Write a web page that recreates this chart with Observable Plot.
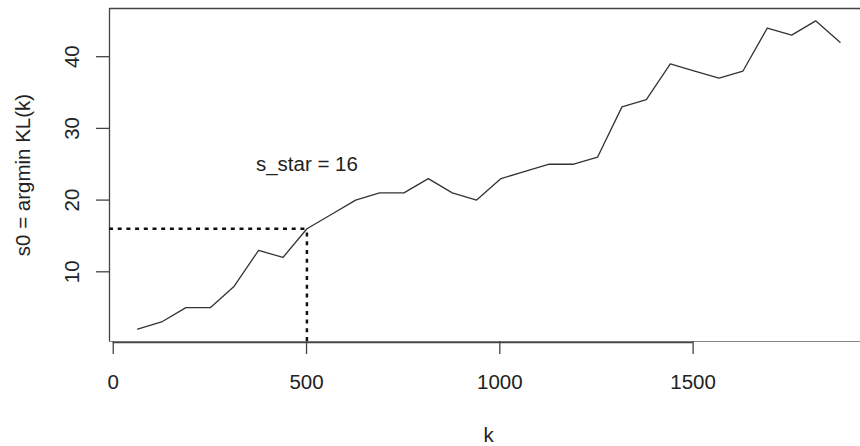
<!DOCTYPE html>
<html>
<head>
<meta charset="utf-8">
<script src="https://cdn.jsdelivr.net/npm/d3@7"></script>
<script src="https://cdn.jsdelivr.net/npm/@observablehq/plot@0.6"></script>
<style>
  html, body { margin: 0; padding: 0; background: #fff; }
  #chart svg { display: block; }
</style>
</head>
<body>
<div id="chart"></div>
<script>
// ---- data ----
const kValues  = [63, 125, 188, 251, 313, 376, 439, 501, 564, 627, 689, 752, 815, 877, 940,
                  1003, 1065, 1128, 1191, 1253, 1316, 1379, 1441, 1504, 1567, 1629, 1692, 1755, 1817, 1880];
const s0Values = [2, 3, 5, 5, 8, 13, 12, 16, 18, 20, 21, 21, 23, 21, 20,
                  23, 24, 25, 25, 26, 33, 34, 39, 38, 37, 38, 44, 43, 45, 42];
const xTicks = [0, 500, 1000, 1500];
const yTicks = [10, 20, 30, 40];
const sStar = 16;
const kStar = 501;
const annotationText = "s_star = 16";
const annotationY = 25;
const xTitle = "k";
const yTitle = "s0 = argmin KL(k)";

const data = kValues.map((k, i) => ({k, s0: s0Values[i]}));

// R-style extended domains (4% padding); right side is cropped in the reference
const xDomain = [-9.7, 1933];
const yDomain = [0.28, 46.72];

const ink = "#222";
const boxColor = "#444";

const chart = Plot.plot({
  width: 860,
  height: 446,
  marginLeft: 109,
  marginRight: 0,
  marginTop: 8,
  marginBottom: 105,
  style: {fontFamily: "'Liberation Sans', Arial, Helvetica, sans-serif", fontSize: "20px", color: ink, background: "#fff"},
  x: {domain: xDomain, axis: null},
  y: {domain: yDomain, axis: null},
  marks: [
    // plot box (left, top, bottom) — right edge lies outside the cropped image
    Plot.ruleX([xDomain[0]], {y1: yDomain[0], y2: yDomain[1], stroke: boxColor, strokeWidth: 1.3}),
    Plot.ruleY([yDomain[1]], {x1: xDomain[0], x2: xDomain[1], stroke: boxColor, strokeWidth: 1.3}),
    Plot.ruleY([yDomain[0]], {x1: xDomain[0], x2: xDomain[1], stroke: "#888", strokeWidth: 1.2}),
    // x axis line (from first to last tick) and ticks
    Plot.ruleY([yDomain[0]], {x1: xTicks[0], x2: xTicks[xTicks.length - 1], stroke: boxColor, strokeWidth: 1.4, dy: 1}),
    Plot.axisX({ticks: xTicks, tickSize: 13, tickPadding: 20, tickFormat: d => String(d),
      stroke: boxColor, strokeWidth: 1.3, fontSize: 20.5, label: null, fill: ink}),
    // y axis ticks and rotated labels
    Plot.axisY({ticks: yTicks, tickSize: 13, tickFormat: () => "", stroke: boxColor, strokeWidth: 1.3, label: null}),
    Plot.text(yTicks, {y: d => d, text: d => String(d), frameAnchor: "left", dx: -37, rotate: -90,
      textAnchor: "middle", lineAnchor: "middle", fontSize: 20.5, fill: ink}),
    // axis titles
    Plot.text([xTitle], {text: d => d, frameAnchor: "bottom", dx: 3.5, dy: 94, lineAnchor: "middle", fontSize: 20.5, fill: ink}),
    Plot.text([yTitle], {text: d => d, frameAnchor: "left", dx: -86, rotate: -90, textAnchor: "middle",
      lineAnchor: "middle", fontSize: 20.5, fill: ink}),
    // dotted guides at s_star
    Plot.ruleY([sStar], {x1: xDomain[0], x2: kStar, stroke: "#111", strokeWidth: 2.5, strokeDasharray: "4,4.7"}),
    Plot.ruleX([kStar], {y1: yDomain[0], y2: sStar, stroke: "#111", strokeWidth: 2.5, strokeDasharray: "4,4.7"}),
    // the series line
    Plot.line(data, {x: "k", y: "s0", stroke: "#333", strokeWidth: 1.3}),
    // annotation
    Plot.text([annotationText], {x: kStar, y: annotationY, text: d => d, textAnchor: "middle",
      lineAnchor: "middle", fontSize: 20.5, fill: ink})
  ]
});

document.getElementById("chart").appendChild(chart);
</script>
</body>
</html>
